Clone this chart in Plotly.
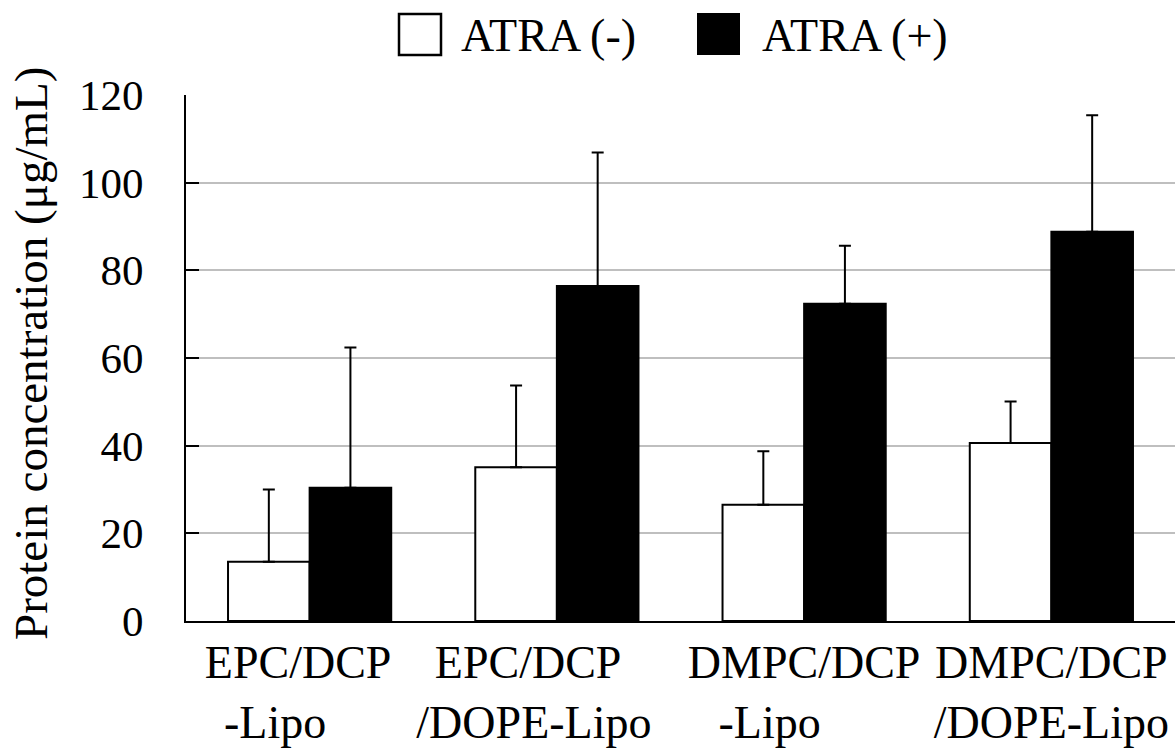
import plotly.graph_objects as go

categories = ["EPC/DCP -Lipo", "EPC/DCP /DOPE-Lipo", "DMPC/DCP -Lipo", "DMPC/DCP /DOPE-Lipo"]
label_line1 = ["EPC/DCP", "EPC/DCP", "DMPC/DCP", "DMPC/DCP"]
label_line2 = ["-Lipo", "/DOPE-Lipo", "-Lipo", "/DOPE-Lipo"]
atra_minus = [13.5, 35.1, 26.5, 40.6]
atra_minus_err = [16.5, 18.6, 12.2, 9.5]
atra_plus = [30.4, 76.4, 72.4, 88.8]
atra_plus_err = [32.0, 30.5, 13.2, 26.6]
series_names = ["ATRA (-)", "ATRA (+)"]
y_ticks = [0, 20, 40, 60, 80, 100, 120]

FONT = "Liberation Serif"

# trailing non-breaking spaces to mimic the original label alignment
pad1 = [2, 5, 0, 0]
pad2 = [6, 4, 6, 0]
NB = "\u00a0"
tick_text = [a + NB * p + "<br>" + b + NB * q
             for a, b, p, q in zip(label_line1, label_line2, pad1, pad2)]

fig = go.Figure()
fig.add_trace(go.Bar(
    x=categories, y=atra_minus, name=series_names[0],
    marker=dict(color="white", line=dict(color="black", width=2)),
    error_y=dict(type="data", symmetric=False, array=atra_minus_err,
                 arrayminus=[0] * len(atra_minus), color="black", thickness=2, width=6),
    showlegend=False,
))
fig.add_trace(go.Bar(
    x=categories, y=atra_plus, name=series_names[1],
    marker=dict(color="black", line=dict(color="black", width=2)),
    error_y=dict(type="data", symmetric=False, array=atra_plus_err,
                 arrayminus=[0] * len(atra_plus), color="black", thickness=2, width=6),
    showlegend=False,
))

W, H = 1176, 754
L, R, T, B = 186, 1, 95, 133
pw, ph = W - L - R, H - T - B

def px_x(x):
    return (x - L) / pw

def px_y(y):
    return (H - B - y) / ph

# manual legend
fig.add_shape(type="rect", xref="paper", yref="paper",
              x0=px_x(399), x1=px_x(441), y0=px_y(55), y1=px_y(14),
              line=dict(color="black", width=2.5), fillcolor="white")
fig.add_shape(type="rect", xref="paper", yref="paper",
              x0=px_x(697), x1=px_x(740), y0=px_y(55), y1=px_y(13),
              line=dict(color="black", width=0), fillcolor="black")
fig.add_annotation(text=series_names[0], xref="paper", yref="paper",
                   x=px_x(459), y=px_y(36), xanchor="left", yanchor="middle",
                   showarrow=False, font=dict(family=FONT, size=46, color="black"))
fig.add_annotation(text=series_names[1], xref="paper", yref="paper",
                   x=px_x(760), y=px_y(36), xanchor="left", yanchor="middle",
                   showarrow=False, font=dict(family=FONT, size=46, color="black"))
# y-axis title
fig.add_annotation(text="Protein concentration (μg/mL)", xref="paper", yref="paper",
                   x=px_x(31), y=px_y(354), xanchor="center", yanchor="middle",
                   textangle=-90, showarrow=False,
                   font=dict(family=FONT, size=47, color="black"))

fig.update_layout(
    width=W, height=H,
    margin=dict(l=L, r=R, t=T, b=B, autoexpand=False),
    paper_bgcolor="white", plot_bgcolor="white",
    barmode="group", bargap=0.34, bargroupgap=0,
    font=dict(family=FONT, color="black"),
)
fig.update_xaxes(
    showline=True, linecolor="black", linewidth=2,
    showgrid=False, ticks="", range=[-0.5, 3.5],
    tickmode="array", tickvals=categories, ticktext=tick_text,
    tickangle=0, automargin=False,
    tickfont=dict(family=FONT, size=46, color="black"),
)
fig.update_yaxes(
    range=[0, 120], tickvals=y_ticks,
    showline=True, linecolor="black", linewidth=2,
    showgrid=True, gridcolor="#bfbfbf", gridwidth=1.5,
    zeroline=False, automargin=False,
    ticks="inside", ticklen=13, tickwidth=2, tickcolor="black",
    ticklabelstandoff=32,
    tickfont=dict(family=FONT, size=43, color="black"),
)

fig.write_html("out.html")
